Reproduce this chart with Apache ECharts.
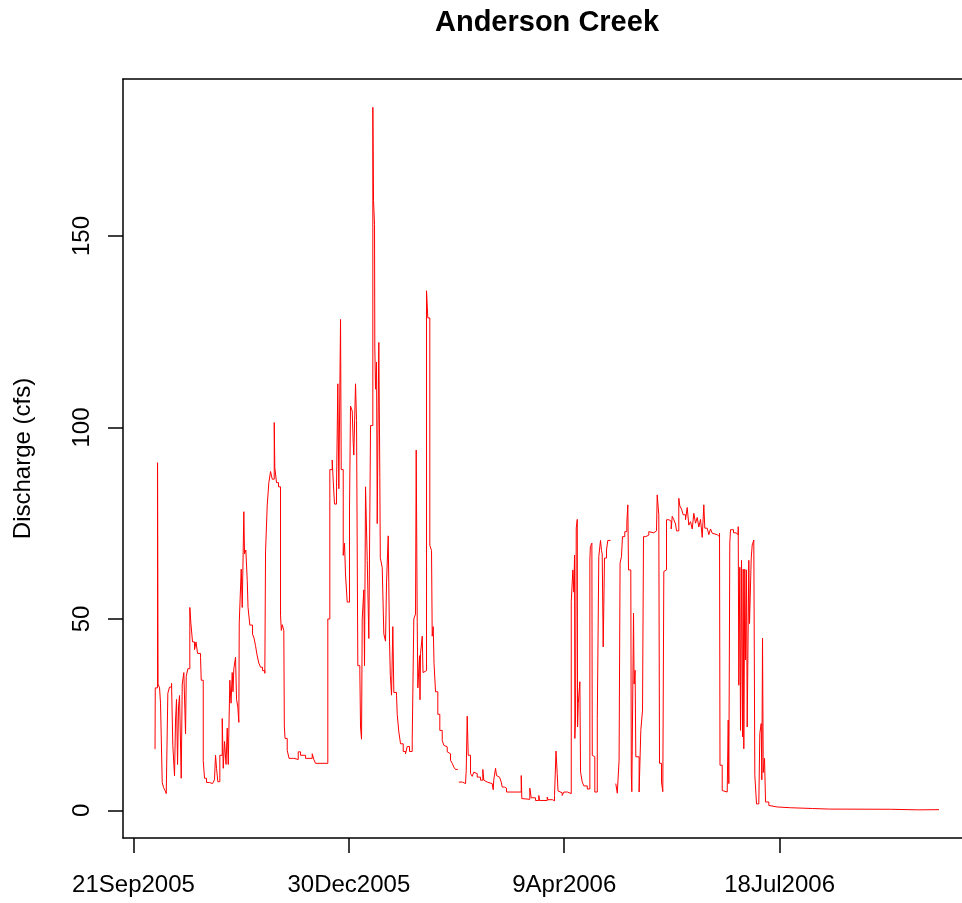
<!DOCTYPE html>
<html>
<head>
<meta charset="utf-8">
<title>Anderson Creek</title>
<script src="https://cdn.jsdelivr.net/npm/echarts@6/dist/echarts.min.js"></script>
<style>
  html, body { margin: 0; padding: 0; background: #ffffff; }
  #chart { width: 962px; height: 903px; }
</style>
</head>
<body>
<div id="chart"></div>
<script>
// Discharge record, water year starting 1 Oct 2005.
// flowDays: days elapsed since seriesStart; flowCfs: discharge in cfs (null = no record).
const seriesStart = '2005-10-01';
const flowDays = [
  0, 0.1, 1.16, 1.4, 2.1, 2.55, 3.34, 3.95, 4.64, 5.2,
  5.94, 6.73, 7.66, 8.26, 9.05, 9.52, 9.98, 10.45, 10.91, 11.38,
  12.16, 12.63, 13.37, 14.16, 14.49, 15.23, 16.16, 16.62, 17.41, 18.34,
  19.04, 19.73, 21.13, 21.45, 22.38, 22.98, 23.91, 25.3, 26.7, 27.6,
  28.09, 28.56, 29.16, 30.09, 31.2, 31.67, 32.27, 32.97, 33.52, 33.99,
  34.73, 35.29, 35.84, 36.2, 36.59, 37.38, 37.84, 38.44, 38.91, 39.1,
  40.02, 40.49, 41.23, 41.55, 42.16, 42.81, 43.18, 44.02, 45.27, 45.97,
  46.66, 47.36, 48.19, 48.98, 49.91, 50.98, 51.31, 52.1, 52.84, 53.63,
  54.42, 55.35, 55.62, 56.41, 57.34, 58.27, 58.64, 59.06, 59.8, 60.04,
  60.36, 61.38, 62.22, 64.44, 66.49, 67.56, 69.88, 72.99, 73.73, 74.52,
  80.23, 81.16, 82.27, 82.74, 83.34, 84.27, 84.87, 85.34, 86.13, 86.45,
  87.38, 87.98, 88.45, 89.24, 90.3, 90.77, 91.56, 92.02, 92.3, 93.09,
  93.56, 94.16, 95.09, 95.41, 95.88, 96.2, 96.94, 97.27, 97.74, 98.53,
  99.27, 100.06, 101.13, 101.45, 101.91, 102.05, 102.38, 102.85, 103.17, 103.54,
  103.91, 104.37, 104.6, 105.49, 106.23, 107.02, 107.49, 108.27, 108.88, 109.25,
  109.81, 110.41, 110.88, 112.13, 112.46, 113.2, 113.99, 115.24, 116.31, 117.1,
  118.17, 119.42, 120.16, 120.95, 121.27, 121.74, 122.02, 122.81, 123.04, 123.27,
  124.06, 124.43, 124.8, 126.06, 126.66, 127.59, 128.38, 128.7, 129.17, 129.54,
  130.24, 131.3, 132.23, 133.35, 134.09, 134.88, 135.67, 136.41, 137.2, 137.99,
  138.73, 139.52, 140.59, 140.8, 141.05, 142.77, 144.16, 144.49, 144.95, 145.42,
  146.49, 147.28, 148.02, 148.81, 149.6, 151.13, 152.2, 152.66, 153.45, 154.24,
  156.56, 157.03, 157.26, 157.63, 158.1, 158.56, 159.35, 159.95, 160.74, 161.21,
  162.27, 163.2, 170.03, 170.31, 171.1, 174.02, 174.67, 176.67, 178.2, 178.53,
  182.1, 182.47, 184.56, 185.49, 186.18, 186.74, 187.11, 187.81, 189.06, 189.81,
  191.53, 193.26, 194.0, 194.47, 194.79, 194.93, 195.26, 195.58, 196.05, 196.19,
  196.51, 197.26, 197.58, 198.37, 199.12, 200.7, 201.9, 202.14, 202.84, 203.02,
  203.48, 204.2, 205.35, 206.05, 206.84, 207.3, 207.63, 208.09, 208.7, 209.63,
  210.23, 211.5, 213.94, 214.63, 215.47, 215.93, 216.58, 217.05, 218.12, 219.05,
  219.52, 219.84, 220.91, 221.14, 221.38, 222.17, 222.45, 222.91, 223.24, 224.77,
  225.56, 226.35, 226.81, 227.88, 228.67, 229.27, 230.06, 231.59, 232.84, 233.17,
  233.91, 234.24, 235.17, 235.77, 236.24, 237.03, 237.49, 238.65, 239.67, 240.14,
  240.88, 241.67, 242.14, 243.2, 243.67, 244.46, 245.25, 246.31, 247.1, 247.85,
  248.64, 249.43, 250.17, 250.96, 251.75, 252.49, 253.28, 254.07, 254.81, 255.27,
  256.39, 257.13, 257.92, 258.71, 259.45, 261.03, 262.1, 262.33, 263.35, 264.09,
  265.67, 266.14, 266.42, 266.88, 267.21, 268.6, 269.76, 270.78, 271.06, 271.52,
  271.85, 272.31, 272.78, 273.1, 273.38, 273.85, 274.17, 274.64, 274.96, 275.7,
  276.03, 276.82, 277.28, 278.02, 278.49, 279.28, 280.35, 280.81, 281.46, 281.74,
  282.07, 282.4, 283.0, 283.47, 285.0, 285.8, 288.9, 295.1, 305.3, 313.2,
  313.5, 341.5, 354.4, 355.0, 364.0
];
const flowCfs = [
  16, 32, 90.8, 33, 32, 28, 7.3, 6, 5.2, 4.4,
  30.6, 32.2, 33.2, 17, 9, 23.6, 29, 12, 27, 30,
  8.4, 33, 36, 20, 35, 37, 53, 49, 44, 42,
  44, 41, 40, 34, 13, 8.4, 7.3, 7, 7.5, 8,
  14.4, 11, 7.5, 14.4, 24, 11, 18, 12, 21.5, 12,
  34, 28, 36, 31, 37, 40, 29, 27, 23, 49,
  63, 53, 78, 67, 68, 60, 53, 48.4, 46, 45,
  43, 40.6, 38.5, 37.4, 36.5, 35.8, 67.5, 79.8, 85.6, 88.5,
  86.5, 101.3, 89.5, 85.6, 84.5, 51, 47, 48.5, 47, 22,
  18.8, 15.7, 13.6, 13.3, 15.3, 14.4, 13.6, 14.8, 13.3, 12.3,
  50, 89, 91.5, 86, 80, 84.5, 111.4, 84, 128.2, 89,
  66.6, 69.8, 61.5, 54.4, 78.7, 105.6, 104.3, 96, 92.8, 111.4,
  101.8, 37.8, 36.5, 21.8, 18.6, 50, 57.6, 37.8, 84.5, 65.3,
  44.9, 100.5, 183.6, 159.3, 153, 121, 110, 117.1, 74.9, 100,
  122.2, 87, 66, 63.4, 46.1, 44.2, 59.6, 71.7, 44.2, 35.3,
  30.1, 48, 30.8, 30.1, 25, 20.5, 17.4, 15.4, 14.8, 16.7,
  15.4, 18.6, 50, 51.3, 94.1, 49.3, 32, 40.4, 28.9, 41,
  45.5, 36, 36.5, 135.7, 128.6, 69.2, 67.9, 45.5, 48, 38.4,
  31, 25.1, 20.9, 18.3, 17, 16.6, 15.3, 14.8, 13.1, 12.3,
  11.3, 10.7, 10.7, null, 7.4, 7, 6.5, 10.5, 24.6, 14.4,
  9.6, 8.9, 10, 9.6, 8.7, 7.9, 10.7, 7.9, 7.4, 7,
  6.5, 5.4, 7.9, 7.4, 11, 9.1, 8.7, 8.3, 7.4, 6.1,
  5.8, 4.8, 9.1, 3.1, 2.9, 5.8, 3.3, 2.6, 3.9, 2.6,
  3.5, 2.8, 2.5, 3.9, 15.5, 9.6, 5.1, 4.6, 3.9, 4.8,
  4.4, 54.5, 62.8, 57, 66.7, 18.8, 24.4, 73.8, 76, 21.8,
  27.9, 33.6, 10, 7.4, 6.4, 5.6, 65.4, 68.9, 69.8, 14.4,
  14, 4.8, 24, 66.3, 70.5, 67.9, 67, 42.7, 65.9, 68,
  70.5, null, 7, 4.5, 13.1, 64.6, 66.3, 71.5, 72.8, 75,
  79.8, 62.8, 62, 9.6, 4.9, 51.5, 33, 36.6, 14, 4.8,
  20.9, 26.2, 71.5, 71, 71.9, 72.8, 72.5, 73, 73.5, 82.4,
  77.2, 12.3, 7.4, 4.9, 62.4, 62.8, 75.9, 75.5, 73.5, 76.8,
  75.9, 74.8, 73, 81.5, 79.5, 78.7, 77.2, 75.9, 79.1, 74.5,
  75.4, 73.5, 77.6, 75, 76.5, 74, 76, 71.3, 79.8, 73.7,
  73.3, 72, 73.5, 72.4, 72, 71.5, 72.4, 11.8, 5.2, 4.8,
  4.4, 23.6, 7, 69.8, 73.3, 72.5, 72, 74.1, 32.7, 63.5,
  20.9, 65.3, 19.2, 63, 16.1, 63, 39.3, 62.8, 21.8, 65.3,
  48.8, 65.9, 69.3, 70.6, 9.2, 1.7, 1.3, 20.1, 22.7, 8,
  45, 9.9, 13.6, 2.2, 1.3, 0.9, 0.7, 0.5, 0.35, 0.6,
  0.3, 0.15, 0.5, 0.2, 0.2
];

// Axis ticks
const xTickDates = ['2005-09-21', '2005-12-30', '2006-04-09', '2006-07-18'];
const xTickLabels = ['21Sep2005', '30Dec2005', '9Apr2006', '18Jul2006'];
const yTickValues = [0, 50, 100, 150];
const yTickLabels = ['0', '50', '100', '150'];

const DAY_MS = 86400000;
const axisOrigin = Date.parse(xTickDates[0] + 'T00:00:00Z');
const toAxisDay = iso => (Date.parse(iso + 'T00:00:00Z') - axisOrigin) / DAY_MS;

const startOffset = toAxisDay(seriesStart);
const xTickValues = xTickDates.map(toAxisDay);
const seriesData = flowDays.map((d, i) => [d + startOffset, flowCfs[i]]);

// Visible date window (days from the first tick date); the frame runs off the right edge.
const xMin = -4.875;
const xMax = 384.69;

const FONT = '"Liberation Sans", Arial, Helvetica, sans-serif';
const FRAME = { color: '#000000', width: 1.5 };

const chart = echarts.init(document.getElementById('chart'), null, { renderer: 'canvas' });
chart.setOption({
  backgroundColor: '#ffffff',
  animation: false,
  title: {
    text: 'Anderson Creek',
    left: 547,
    top: 8,
    padding: 0,
    textAlign: 'center',
    textStyle: { fontFamily: FONT, fontSize: 29, fontWeight: 'bold', color: '#000000' }
  },
  grid: {
    left: 123,
    right: 0,
    top: 79,
    bottom: 65,
    show: false
  },
  xAxis: [{
    type: 'value',
    position: 'bottom',
    min: xMin,
    max: xMax,
    axisLine: { show: true, onZero: false, lineStyle: FRAME },
    splitLine: { show: false },
    axisTick: {
      show: true,
      length: 15,
      customValues: xTickValues,
      lineStyle: FRAME
    },
    axisLabel: {
      show: true,
      customValues: xTickValues,
      margin: 35,
      fontFamily: FONT,
      fontSize: 24,
      color: '#000000',
      formatter: v => {
        const i = xTickValues.findIndex(t => Math.abs(t - v) < 1e-6);
        return i >= 0 ? xTickLabels[i] : '';
      }
    }
  }, {
    type: 'value',
    position: 'top',
    min: xMin,
    max: xMax,
    axisLine: { show: true, onZero: false, lineStyle: FRAME },
    splitLine: { show: false },
    axisTick: { show: false },
    axisLabel: { show: false }
  }],
  yAxis: {
    type: 'value',
    min: -7.2,
    max: 191,
    name: 'Discharge (cfs)',
    nameLocation: 'middle',
    nameGap: 88,
    nameRotate: 90,
    nameTextStyle: { fontFamily: FONT, fontSize: 24, color: '#000000' },
    axisLine: { show: true, onZero: false, lineStyle: FRAME },
    splitLine: { show: false },
    axisTick: {
      show: true,
      length: 15,
      customValues: yTickValues,
      lineStyle: FRAME
    },
    axisLabel: {
      show: true,
      customValues: yTickValues,
      rotate: 90,
      margin: 29,
      fontFamily: FONT,
      fontSize: 24,
      color: '#000000',
      formatter: v => {
        const i = yTickValues.indexOf(v);
        return i >= 0 ? yTickLabels[i] : '';
      }
    }
  },
  series: [{
    type: 'line',
    xAxisIndex: 0,
    data: seriesData,
    step: 'end',
    showSymbol: false,
    symbol: 'none',
    connectNulls: false,
    clip: true,
    sampling: null,
    lineStyle: { color: '#ff0000', width: 1 }
  }]
});
</script>
</body>
</html>
